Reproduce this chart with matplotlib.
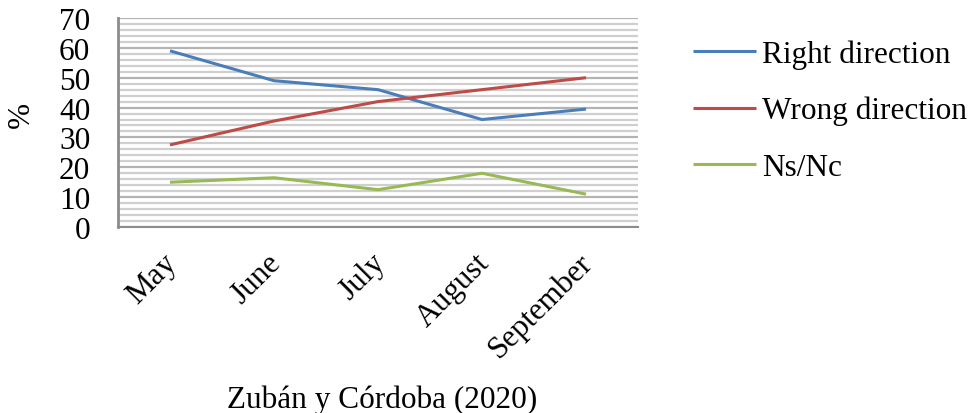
import matplotlib
matplotlib.use("Agg")
import matplotlib.pyplot as plt
import matplotlib.transforms as mtransforms
import numpy as np

months = ["May", "June", "July", "August", "September"]
right_direction = [59, 49, 46, 36, 39.5]
wrong_direction = [27.5, 35.5, 42, 46, 50]
ns_nc = [15, 16.5, 12.5, 18, 11]
series_names = ["Right direction", "Wrong direction", "Ns/Nc"]
colors = ["#4a7ebb", "#be4b48", "#98b954"]
yticks = [0, 10, 20, 30, 40, 50, 60, 70]

plt.rcParams['font.family'] = ['Liberation Serif', 'DejaVu Serif']
FS = 22.5

fig = plt.figure(figsize=(9.73, 4.14), dpi=100)
ax = fig.add_axes([118/973, 1 - 228/414, (638-118)/973, (228-19)/414])

x = np.arange(len(months))
for vals, name, c in zip([right_direction, wrong_direction, ns_nc], series_names, colors):
    ax.plot(x, vals, color=c, lw=2.2, label=name, solid_capstyle='butt')

ax.set_xlim(-0.5, len(months) - 0.5)
ax.set_ylim(0, 70)
ax.set_yticks(yticks)
ax.set_yticklabels([str(t) for t in yticks], fontsize=FS)
ax.set_yticks(np.arange(0, 71, 2), minor=True)
ax.grid(axis='y', which='minor', color='#cfcfcf', lw=1.6)
ax.grid(axis='y', which='major', color='#b3b3b3', lw=1.6)
ax.set_axisbelow(True)
ax.tick_params(axis='y', which='both', length=0, pad=20)
ax.tick_params(axis='x', length=0, pad=15)

ax.set_xticks(x)
ax.set_xticklabels(months, fontsize=FS, rotation=45, ha='right', va='top')
offset = mtransforms.ScaledTranslation(13/100, 0, fig.dpi_scale_trans)
for lab in ax.get_xticklabels():
    lab.set_transform(lab.get_transform() + offset)

for s in ['top', 'right']:
    ax.spines[s].set_visible(False)
ax.spines['left'].set_color('#8c8c8c')
ax.spines['left'].set_linewidth(2)
ax.spines['bottom'].set_color('#8c8c8c')
ax.spines['bottom'].set_linewidth(1.5)

fig.text(21/973, 1 - 115/414, '%', fontsize=FS, rotation=90, ha='center', va='center')
fig.text(382/973, 1 - 408/414, 'Zubán y Córdoba (2020)', fontsize=FS, ha='center', va='baseline')

leg = ax.legend(loc='upper left', bbox_to_anchor=(693/973, 1 - 40/414), bbox_transform=fig.transFigure,
                frameon=False, fontsize=FS, handlelength=2.0, handletextpad=0.22, labelspacing=0.88,
                borderpad=0, borderaxespad=0)

fig.savefig('out.png', dpi=100)
